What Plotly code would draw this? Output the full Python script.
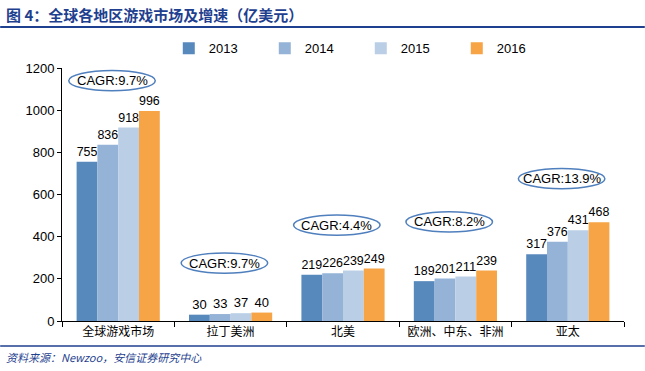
import plotly.graph_objects as go

categories = ["全球游戏市场", "拉丁美洲", "北美", "欧洲、中东、非洲", "亚太"]
years = ["2013", "2014", "2015", "2016"]
v2013 = [755, 30, 219, 189, 317]
v2014 = [836, 33, 226, 201, 376]
v2015 = [918, 37, 239, 211, 431]
v2016 = [996, 40, 249, 239, 468]
cagr_labels = ["CAGR:9.7%", "CAGR:9.7%", "CAGR:4.4%", "CAGR:8.2%", "CAGR:13.9%"]
cagr_y = [1140, 275, 455, 470, 675]

series = [v2013, v2014, v2015, v2016]
colors = ["#5889bd", "#95b3d7", "#bacfe6", "#f6a446"]

fig = go.Figure()
for name, vals, c in zip(years, series, colors):
    fig.add_trace(go.Bar(
        x=categories, y=vals, name=name, marker=dict(color=c, line=dict(width=0)),
        text=[str(v) for v in vals], textposition="outside",
        textfont=dict(family="Arial", size=13, color="#000000"),
        cliponaxis=False,
    ))

for i, (lab, yc) in enumerate(zip(cagr_labels, cagr_y)):
    fig.add_shape(type="circle", xref="x", yref="y",
                  x0=i - 0.44, x1=i + 0.33, y0=yc - 48, y1=yc + 48,
                  line=dict(color="#4f7fbd", width=1.5), fillcolor="rgba(0,0,0,0)")
    fig.add_annotation(x=i - 0.055, y=yc, xref="x", yref="y", text=lab, showarrow=False,
                       font=dict(family="Arial", size=13, color="#000000"))

# header / footer decorations
fig.add_shape(type="line", xref="paper", yref="paper", x0=-0.11, x1=1.037,
              y0=1 + (68 - 27) / 253, y1=1 + (68 - 27) / 253,
              line=dict(color="#1f3f8f", width=2))
fig.add_shape(type="line", xref="paper", yref="paper", x0=-0.11, x1=1.037,
              y0=-(346 - 321) / 253, y1=-(346 - 321) / 253,
              line=dict(color="#1f3f8f", width=1.5))
fig.add_annotation(xref="paper", yref="paper", x=-0.103, y=1 + (68 - 15) / 253,
                   xanchor="left", yanchor="middle", showarrow=False,
                   text="<b>图 4：全球各地区游戏市场及增速（亿美元）</b>",
                   font=dict(family="Noto Sans CJK SC", size=15, color="#1f3f8f"))
fig.add_annotation(xref="paper", yref="paper", x=-0.103, y=-(357 - 321) / 253,
                   xanchor="left", yanchor="middle", showarrow=False,
                   text="<i>资料来源：Newzoo，安信证券研究中心</i>",
                   font=dict(family="Noto Sans CJK SC", size=11, color="#1f3f8f"))

fig.update_layout(
    width=645, height=371,
    margin=dict(l=62, r=21, t=68, b=50, autoexpand=False),
    paper_bgcolor="white", plot_bgcolor="white",
    barmode="group", bargap=0.26, bargroupgap=0,
    showlegend=True,
    legend=dict(orientation="h", x=0.19, y=1.078, xanchor="left", yanchor="middle",
                font=dict(family="Arial", size=13, color="#000000"),
                entrywidth=51, entrywidthmode="pixels", itemwidth=30,
                bgcolor="rgba(0,0,0,0)", traceorder="normal"),
    font=dict(family="Arial", size=13, color="#000000"),
)
fig.update_xaxes(showline=True, linecolor="#000000", linewidth=1,
                 ticks="outside", tickson="boundaries", ticklen=5, tickcolor="#000000",
                 tickfont=dict(family="Noto Sans CJK SC", size=12, color="#000000"),
                 showgrid=False)
fig.update_yaxes(range=[0, 1200], dtick=200, showline=True, linecolor="#000000", linewidth=1,
                 ticks="outside", ticklen=4, tickcolor="#000000", showgrid=False,
                 tickfont=dict(family="Arial", size=13, color="#000000"), zeroline=False)

fig.write_html("out.html", config={"displayModeBar": False},
               post_script="document.body.style.margin='0px';document.body.style.overflow='hidden';")
